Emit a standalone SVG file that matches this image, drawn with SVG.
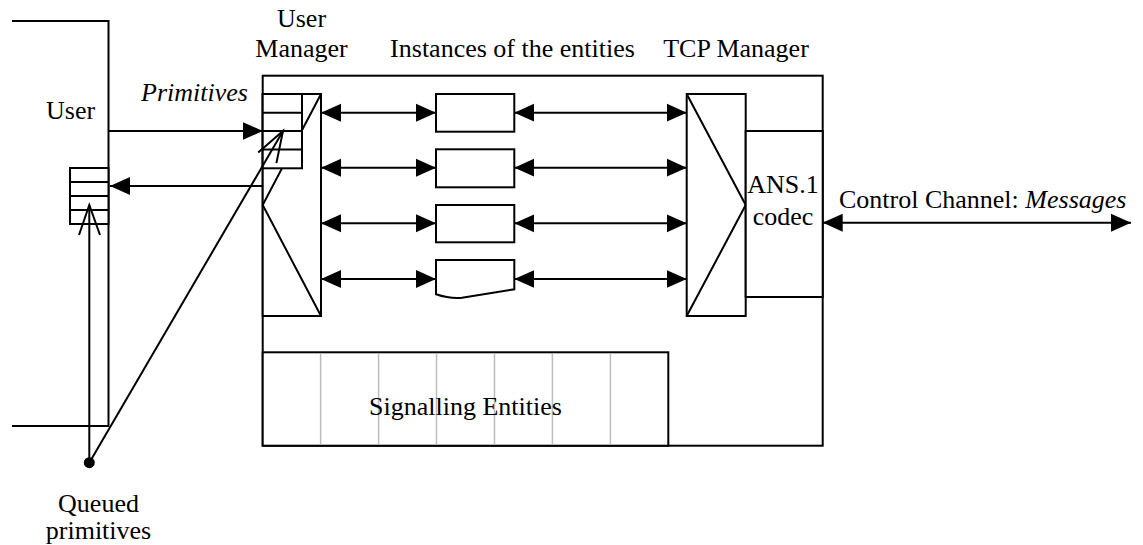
<svg xmlns="http://www.w3.org/2000/svg" width="1143" height="545" viewBox="0 0 1143 545">
  <style>
    .ln { fill: none; stroke: #000; stroke-width: 2; }
    .box { fill: #fff; stroke: #000; stroke-width: 2; }
    .cell { fill: #fff; stroke: #000; stroke-width: 2; }
    .grey { fill: none; stroke: #bdbdbd; stroke-width: 1.5; }
    .conn { fill: none; stroke: #000; stroke-width: 2; }
    .t { font-family: "Liberation Serif", "Times New Roman", serif; font-size: 26px; fill: #000; }
    .it { font-style: italic; }
  </style>
  <defs>
    <marker id="head" viewBox="0 -10 20 20" refX="20" refY="0" markerWidth="20" markerHeight="20" markerUnits="userSpaceOnUse" orient="auto-start-reverse">
      <path d="M0,-9 L20,0 L0,9 z" fill="#000"/>
    </marker>
  </defs>

  <rect width="1143" height="545" fill="#fff"/>

  <!-- User side frame -->
  <g id="user">
    <path class="ln" d="M12,21 H108.5 V426 H12"/>
    <text class="t" x="46" y="119">User</text>
  </g>

  <!-- Queue held at the user side -->
  <g id="user-queue">
    <rect class="cell" x="70" y="168" width="38.5" height="56"/>
    <path class="ln" d="M70,182 H108.5 M70,196 H108.5 M70,210 H108.5"/>
  </g>

  <!-- Main protocol stack frame -->
  <g id="stack">
    <rect class="box" x="262.7" y="75.7" width="560" height="370"/>
  </g>

  <!-- Signalling entities strip -->
  <g id="signalling">
    <rect class="box" x="262.7" y="352.3" width="405.6" height="93.4"/>
    <path class="grey" d="M320.6,353.3 V444.7 M378.6,353.3 V444.7 M436.5,353.3 V444.7 M494.5,353.3 V444.7 M552.4,353.3 V444.7 M610.4,353.3 V444.7"/>
    <text class="t" x="465.5" y="415" text-anchor="middle">Signalling Entities</text>
  </g>

  <!-- User manager -->
  <g id="user-manager">
    <rect class="box" x="262.7" y="94" width="58.3" height="222"/>
    <path class="ln" d="M321,94 L262.7,205 L321,316"/>
    <rect class="cell" x="262.7" y="94" width="39.3" height="74.3"/>
    <path class="ln" d="M262.7,112.7 H302 M262.7,131 H302 M262.7,149.5 H302"/>
    <text class="t" x="301.5" y="27" text-anchor="middle">User</text>
    <text class="t" x="301.5" y="57" text-anchor="middle">Manager</text>
  </g>

  <!-- Entity instances -->
  <g id="instance-1">
    <rect class="box" x="436" y="94" width="78.3" height="37.7"/>
  </g>
  <g id="instance-2">
    <rect class="box" x="436" y="149.3" width="78.3" height="38"/>
  </g>
  <g id="instance-3">
    <rect class="box" x="436" y="205" width="78.3" height="37.3"/>
  </g>
  <g id="instance-4">
    <path class="box" d="M436,260 H514.3 V289.3 L462,297.8 Q450,299 436,294.3 Z"/>
  </g>
  <g id="instances-label">
    <text class="t" x="512.5" y="57" text-anchor="middle">Instances of the entities</text>
  </g>

  <!-- TCP manager -->
  <g id="tcp-manager">
    <rect class="box" x="686.7" y="94" width="59" height="222"/>
    <path class="ln" d="M686.7,94 L745.7,205 L686.7,316"/>
    <text class="t" x="736" y="57" text-anchor="middle">TCP Manager</text>
  </g>

  <!-- ANS.1 codec -->
  <g id="codec">
    <rect class="box" x="745.7" y="131" width="77" height="166"/>
    <text class="t" x="783" y="193.3" text-anchor="middle">ANS.1</text>
    <text class="t" x="783" y="225" text-anchor="middle">codec</text>
  </g>

  <!-- Queued primitives marker -->
  <g id="queued-primitives">
    <circle cx="89.3" cy="462.7" r="5.5" fill="#000"/>
    <text class="t" x="98.5" y="512" text-anchor="middle">Queued</text>
    <text class="t" x="98.5" y="539" text-anchor="middle">primitives</text>
  </g>

  <!-- Connectors -->
  <g id="connectors">
    <!-- primitives towards the user manager and back -->
    <line class="conn" x1="108.5" y1="131" x2="262.7" y2="131" marker-end="url(#head)"/>
    <text class="t it" x="141" y="101">Primitives</text>
    <line class="conn" x1="262.7" y1="186" x2="110" y2="186" marker-end="url(#head)"/>

    <!-- queue pointers -->
    <line class="conn" x1="89.3" y1="462.7" x2="89.3" y2="205"/>
    <path class="conn" d="M79,235 L89.3,205 L100,235"/>
    <line class="conn" x1="89.3" y1="462.7" x2="283" y2="131"/>
    <path class="conn" d="M258.2,152.5 L283,131 L276.4,163.1"/>

    <!-- user manager <-> instances -->
    <line class="conn" x1="321" y1="112.7" x2="436" y2="112.7" marker-start="url(#head)" marker-end="url(#head)"/>
    <line class="conn" x1="321" y1="167.7" x2="436" y2="167.7" marker-start="url(#head)" marker-end="url(#head)"/>
    <line class="conn" x1="321" y1="223.3" x2="436" y2="223.3" marker-start="url(#head)" marker-end="url(#head)"/>
    <line class="conn" x1="321" y1="279" x2="436" y2="279" marker-start="url(#head)" marker-end="url(#head)"/>

    <!-- instances <-> TCP manager -->
    <line class="conn" x1="514.3" y1="112.7" x2="686.7" y2="112.7" marker-start="url(#head)" marker-end="url(#head)"/>
    <line class="conn" x1="514.3" y1="167.7" x2="686.7" y2="167.7" marker-start="url(#head)" marker-end="url(#head)"/>
    <line class="conn" x1="514.3" y1="223.3" x2="686.7" y2="223.3" marker-start="url(#head)" marker-end="url(#head)"/>
    <line class="conn" x1="514.3" y1="279" x2="686.7" y2="279" marker-start="url(#head)" marker-end="url(#head)"/>

    <!-- control channel -->
    <line class="conn" x1="822.7" y1="222.7" x2="1131" y2="222.7" marker-start="url(#head)" marker-end="url(#head)"/>
    <text class="t" x="839" y="208">Control Channel: <tspan class="it">Messages</tspan></text>
  </g>
</svg>
